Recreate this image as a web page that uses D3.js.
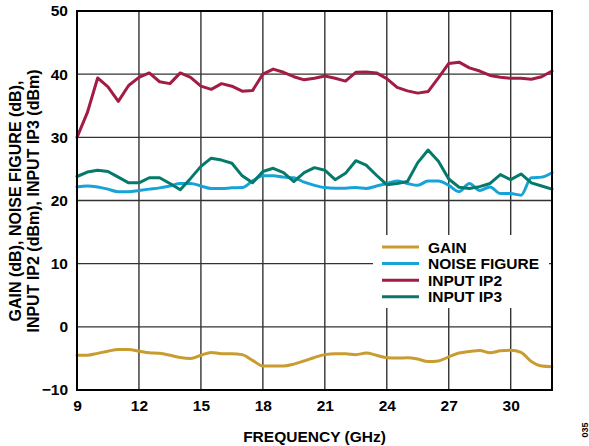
<!DOCTYPE html>
<html>
<head>
<meta charset="utf-8">
<script src="https://cdn.jsdelivr.net/npm/d3@7"></script>
<style>
  html, body { margin: 0; padding: 0; background: #fff; }
  svg { display: block; }
  text { font-family: "Liberation Sans", Arial, sans-serif; font-weight: bold; fill: #000; }
</style>
</head>
<body>
<svg id="chart" width="589" height="446"></svg>
<script>
// Frequency sweep, GHz (0.5 GHz steps)
const freq = [9, 9.5, 10, 10.5, 11, 11.5, 12, 12.5, 13, 13.5, 14, 14.5, 15, 15.5, 16, 16.5,
  17, 17.5, 18, 18.5, 19, 19.5, 20, 20.5, 21, 21.5, 22, 22.5, 23, 23.5, 24, 24.5, 25, 25.5,
  26, 26.5, 27, 27.5, 28, 28.5, 29, 29.5, 30, 30.5, 31, 31.5, 32];

// Gain, dB
const gain = [-4.5, -4.5, -4.2, -3.85, -3.6, -3.6, -3.85, -4.1, -4.2, -4.5, -4.85, -5.0, -4.5, -4.05,
  -4.25, -4.25, -4.4, -5.3, -6.2, -6.2, -6.2, -5.9, -5.4, -4.85, -4.4, -4.25, -4.25, -4.4, -4.15,
  -4.5, -4.9, -4.95, -4.9, -5.1, -5.5, -5.4, -4.75, -4.15, -3.9, -3.75, -4.1, -3.8, -3.7, -4.05,
  -5.5, -6.2, -6.3];

// Noise figure, dB
const noiseFigure = [22.15, 22.3, 22.15, 21.8, 21.4, 21.4, 21.6, 21.8, 22.0, 22.3, 22.7, 22.7, 22.3,
  21.9, 21.9, 22.0, 22.05, 23.1, 23.9, 23.9, 23.7, 23.6, 22.9, 22.4, 22.05, 21.95, 21.95, 22.05,
  21.9, 22.3, 22.7, 23.1, 22.7, 22.4, 23.1, 23.1, 22.4, 21.4, 22.7, 21.6, 22.15, 21.1, 21.1, 20.85,
  23.6, 23.7, 24.4];

// Input IP2, dBm
const inputIP2 = [30.0, 33.9, 39.4, 38.0, 35.7, 38.2, 39.5, 40.2, 38.8, 38.5, 40.2, 39.5, 38.1, 37.6,
  38.5, 38.1, 37.3, 37.4, 40.0, 40.8, 40.3, 39.6, 39.1, 39.35, 39.7, 39.35, 38.9, 40.3, 40.35, 40.2,
  39.3, 37.9, 37.35, 37.0, 37.25, 39.4, 41.7, 41.9, 41.0, 40.5, 39.8, 39.5, 39.35, 39.35, 39.2,
  39.6, 40.5];

// Input IP3, dBm
const inputIP3 = [23.8, 24.5, 24.8, 24.6, 23.7, 22.8, 22.8, 23.6, 23.6, 22.7, 21.7, 23.5, 25.4, 26.7,
  26.4, 25.9, 23.9, 22.8, 24.6, 25.1, 24.4, 23.0, 24.4, 25.2, 24.8, 23.3, 24.3, 26.3, 25.6, 24.0,
  22.5, 22.7, 23.0, 26.0, 28.0, 26.2, 23.4, 22.1, 21.9, 22.2, 22.7, 24.1, 23.3, 24.2, 22.8, 22.3,
  21.8];

const xTicks = [9, 12, 15, 18, 21, 24, 27, 30];
const yTicks = [-10, 0, 10, 20, 30, 40, 50];

const seriesNames = ["GAIN", "NOISE FIGURE", "INPUT IP2", "INPUT IP3"];
const seriesValues = [gain, noiseFigure, inputIP2, inputIP3];
const seriesColors = ["#C99C30", "#18A3D8", "#A21C44", "#057A6A"];

const svg = d3.select("#chart");
const plotLeft = 77, plotRight = 552, plotTop = 11, plotBottom = 390;
const fontSize = 15.5;

const x = d3.scaleLinear().domain([9, 32]).range([plotLeft, plotRight]);
const y = d3.scaleLinear().domain([-10, 50]).range([plotBottom, plotTop]);

// Grid
const grid = svg.append("g").attr("stroke", "#333").attr("stroke-width", 1.4);
grid.selectAll("line.v").data(xTicks.slice(1)).join("line").attr("class", "v")
  .attr("x1", d => x(d)).attr("x2", d => x(d)).attr("y1", plotTop).attr("y2", plotBottom);
grid.selectAll("line.h").data(yTicks.slice(1, -1)).join("line").attr("class", "h")
  .attr("x1", plotLeft).attr("x2", plotRight).attr("y1", d => y(d)).attr("y2", d => y(d));

// Series lines
const line = d3.line().x((d, i) => x(freq[i])).y(d => y(d));
const smooth = d3.line().x((d, i) => x(freq[i])).y(d => y(d)).curve(d3.curveMonotoneX);
svg.append("g").selectAll("path").data(seriesValues).join("path")
  .attr("d", (d, i) => (i < 2 ? smooth : line)(d))
  .attr("fill", "none")
  .attr("stroke", (d, i) => seriesColors[i])
  .attr("stroke-width", 3)
  .attr("stroke-linejoin", "round")
  .attr("stroke-linecap", "round");

// Frame
svg.append("rect").attr("x", plotLeft).attr("y", plotTop)
  .attr("width", plotRight - plotLeft).attr("height", plotBottom - plotTop)
  .attr("fill", "none").attr("stroke", "#000").attr("stroke-width", 2);

// Axes (labels only)
const xAxis = svg.append("g").attr("transform", `translate(0,${plotBottom})`)
  .call(d3.axisBottom(x).tickValues(xTicks).tickFormat(d3.format("d")).tickSize(0).tickPadding(10));
const yAxis = svg.append("g").attr("transform", `translate(${plotLeft},0)`)
  .call(d3.axisLeft(y).tickValues(yTicks).tickFormat(d => d < 0 ? "\u2212" + Math.abs(d) : d).tickSize(0).tickPadding(9));
[xAxis, yAxis].forEach(a => {
  a.select(".domain").remove();
  a.selectAll("text").attr("font-size", fontSize).attr("font-family", "Liberation Sans, Arial, sans-serif")
    .attr("font-weight", "bold").attr("fill", "#000");
});

// Legend
const legend = svg.append("g");
legend.append("rect").attr("x", 373).attr("y", 235).attr("width", 176).attr("height", 73).attr("fill", "#fff");
const rows = legend.selectAll("g").data(seriesNames).join("g")
  .attr("transform", (d, i) => `translate(0,${247 + i * 16.6})`);
rows.append("line").attr("x1", 382).attr("x2", 419).attr("y1", 0).attr("y2", 0)
  .attr("stroke", (d, i) => seriesColors[i]).attr("stroke-width", 3);
rows.append("text").attr("x", 428).attr("y", 0).attr("dy", "0.36em")
  .attr("font-size", fontSize).text(d => d);

// Axis titles
svg.append("text").attr("x", (plotLeft + plotRight) / 2).attr("y", 442)
  .attr("text-anchor", "middle").attr("font-size", fontSize).text("FREQUENCY (GHz)");
const yTitle = svg.append("text").attr("transform", "translate(20.5,201) rotate(-90)")
  .attr("text-anchor", "middle").attr("font-size", 16);
yTitle.append("tspan").attr("x", 0).attr("y", 0).text("GAIN (dB), NOISE FIGURE (dB),");
yTitle.append("tspan").attr("x", 0).attr("y", 18).text("INPUT IP2 (dBm), INPUT IP3 (dBm)");

// Figure number
svg.append("text").attr("transform", "translate(588,430) rotate(-90)")
  .attr("text-anchor", "middle").attr("font-size", 9).attr("font-weight", "normal")
  .attr("fill", "#555").text("035");
</script>
</body>
</html>
